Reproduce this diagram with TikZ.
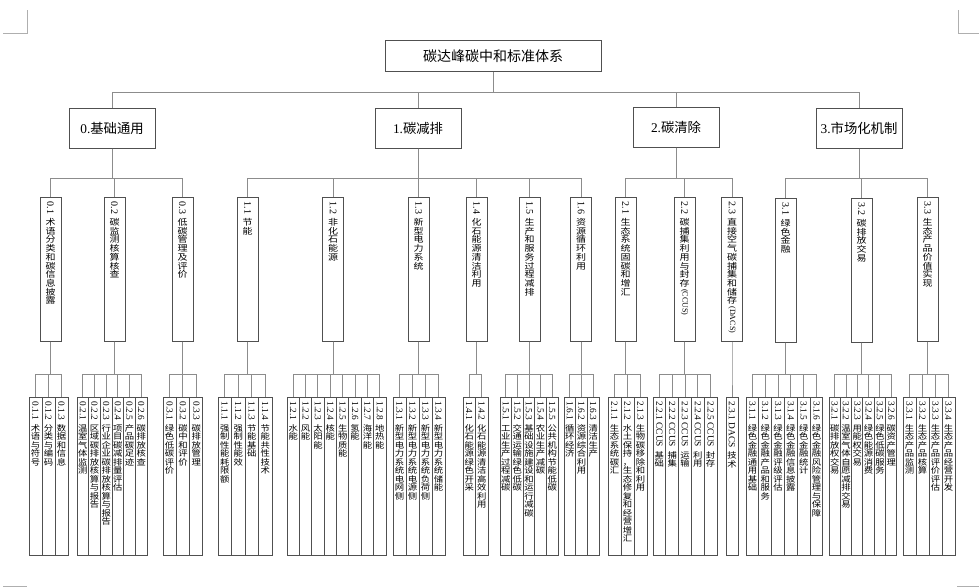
\documentclass[tikz,border=0pt]{standalone}
\usepackage{fontspec}
\setmainfont{Liberation Serif}
\newfontfamily\cjk{Noto Sans CJK SC}
\usepackage{graphicx}
\usetikzlibrary{positioning,calc}
\definecolor{boxline}{RGB}{80,80,80}
\definecolor{linkgray}{RGB}{140,140,140}
\definecolor{markgray}{RGB}{175,175,175}
\makeatletter
\newlength\vlabh
\def\vlabp{0.9em}
\def\vlabsy{0.9}
% vertical label: rotated number, stacked characters, rotated tail
\newcommand\vlab[3]{%
  \vbox to\vlabh{\offinterlineskip
    \kern3.5pt
    \hbox to1em{\hss\rotatebox{-90}{#1}\hss}%
    \kern2pt
    \expandafter\@tfor\expandafter\vlabc\expandafter:\expandafter=#2\do{%
      \hbox to1em{\hss\raisebox{0pt}[\vlabp][0pt]{\scalebox{1}[\vlabsy]{\cjk\vlabc}}\hss}}%
    \ifx\relax#3\relax\else
      \kern2pt\hbox to1em{\hss\rotatebox{-90}{\scalebox{0.8}{#3}}\hss}%
    \fi
    \vfill}}
\makeatother
\tikzset{
  rootbox/.style={draw=boxline,line width=0.75pt,inner sep=0pt,
                  minimum width=162pt,minimum height=23.25pt,
                  font=\cjk\fontsize{10.5pt}{12pt}\selectfont},
  groupbox/.style={draw=boxline,line width=0.75pt,inner sep=0pt,
                   minimum width=64.5pt,minimum height=30pt,
                   font=\fontsize{10pt}{12pt}\selectfont},
  midbox/.style={draw=boxline,line width=0.75pt,inner sep=0pt,
                 minimum width=15.75pt,minimum height=108pt,
                 font=\fontsize{7.5pt}{7.5pt}\selectfont,
                 execute at begin node={\setlength\vlabh{108pt}\def\vlabp{0.87em}\def\vlabsy{0.85}}},
  leafbox/.style={draw=boxline,line width=0.75pt,inner sep=0pt,
                  minimum height=118.5pt,
                  font=\fontsize{7pt}{7pt}\selectfont,
                  execute at begin node={\setlength\vlabh{118.5pt}\def\vlabp{0.91em}\def\vlabsy{0.88}}},
  link/.style={draw=linkgray,line width=0.75pt},
  cropmark/.style={draw=markgray,line width=0.75pt},
}
% leaves of one group: parent, number, left x, box width, tail of number, items
\newcommand\leaves[6]{%
  \foreach \t [count=\i] in {#6} {
    \node[leafbox,minimum width=#4*0.75pt] (#1-\i) at ({#3+#4*(\i-0.5)},476) {\vlab{#2.\i#5}{\t}{}};
    \draw[link] (#1.south) -- (#1.south |- lbus) -| (#1-\i.north);
  }}
\begin{document}
\begin{tikzpicture}[x=0.75pt,y=-0.75pt]
  \useasboundingbox (0,0) rectangle (979,587);
  % page corner marks
  \draw[cropmark] (3,33) -- (27,33) -- (27,10);
  \draw[cropmark] (979,33) -- (958,33) -- (958,10);
  \draw[cropmark] (3,586) -- (27,586);
  \draw[cropmark] (957,586) -- (979,586);
  \coordinate (bus1) at (0,92);
  \coordinate (bus2) at (0,178);
  \coordinate (lbus) at (0,374);
  % root and groups
  \node[rootbox] (root) at (493,56) {碳达峰碳中和标准体系};
  \node[groupbox] (g0) at (112,128) {0.\cjk 基础通用};
  \node[groupbox] (g1) at (418,128) {1.\cjk 碳减排};
  \node[groupbox] (g2) at (676,127) {2.\cjk 碳清除};
  \node[groupbox] (g3) at (859,128) {3.\cjk 市场化机制};
  \foreach \g in {g0,g1,g2,g3}
    \draw[link] (root.south) -- (root.south |- bus1) -| (\g.north);
  % second level
  \node[midbox] (s01) at (50.5,269) {\vlab{0.1}{术语分类和碳信息披露}{}};
  \node[midbox] (s02) at (114.5,269) {\vlab{0.2}{碳监测核算核查}{}};
  \node[midbox] (s03) at (182.5,269) {\vlab{0.3}{低碳管理及评价}{}};
  \node[midbox] (s11) at (247.5,269) {\vlab{1.1}{节能}{}};
  \node[midbox] (s12) at (333,269) {\vlab{1.2}{非化石能源}{}};
  \node[midbox] (s13) at (418.5,269) {\vlab{1.3}{新型电力系统}{}};
  \node[midbox] (s14) at (476.5,269) {\vlab{1.4}{化石能源清洁利用}{}};
  \node[midbox] (s15) at (529.5,269) {\vlab{1.5}{生产和服务过程减排}{}};
  \node[midbox] (s16) at (581,269) {\vlab{1.6}{资源循环利用}{}};
  \node[midbox] (s21) at (625.5,269) {\vlab{2.1}{生态系统固碳和增汇}{}};
  \node[midbox] (s22) at (684.5,269) {\vlab{2.2}{碳捕集利用与封存}{(CCUS)}};
  \node[midbox] (s23) at (732,269) {\vlab{2.3}{直接空气碳捕集和储存}{(DACS)}};
  \node[midbox] (s31) at (785.5,270) {\vlab{3.1}{绿色金融}{}};
  \node[midbox] (s32) at (861.5,270) {\vlab{3.2}{碳排放交易}{}};
  \node[midbox] (s33) at (927.5,269) {\vlab{3.3}{生态产品价值实现}{}};
  \foreach \p/\c in {g0/s01,g0/s02,g0/s03,g1/s11,g1/s12,g1/s13,g1/s14,g1/s15,g1/s16,
                     g2/s21,g2/s22,g2/s23,g3/s31,g3/s32,g3/s33}
    \draw[link] (\p.south) -- (\p.south |- bus2) -| (\c.north);
  % third level
  \leaves{s01}{0.1}{29}{13}{}{术语与符号,分类与编码,数据和信息}
  \leaves{s02}{0.2}{77}{11.67}{}{温室气体监测,区域碳排放核算与报告,行业企业碳排放核算与报告,项目碳减排量评估,产品碳足迹,碳排放核查}
  \leaves{s03}{0.3}{163}{13.33}{}{绿色低碳评价,碳中和评价,碳排放管理}
  \leaves{s11}{1.1}{218}{13.5}{}{强制性能耗限额,强制性能效,节能基础,节能共性技术}
  \leaves{s12}{1.2}{287}{12.375}{}{水能,风能,太阳能,核能,生物质能,氢能,海洋能,地热能}
  \leaves{s13}{1.3}{393}{13}{}{新型电力系统电网侧,新型电力系统电源侧,新型电力系统负荷侧,新型电力系统储能}
  \leaves{s14}{1.4}{463}{12.5}{}{化石能源绿色开采,化石能源清洁高效利用}
  \leaves{s15}{1.5}{500}{11.6}{}{工业生产过程减碳,交通运输绿色低碳,基础设施建设和运行减碳,农业生产减碳,公共机构节能低碳}
  \leaves{s16}{1.6}{564}{11.67}{}{循环经济,资源综合利用,清洁生产}
  \leaves{s21}{2.1}{608}{13}{}{生态系统碳汇,水土保持，生态修复和经营增汇,生物碳移除和利用}
  \leaves{s22}{2.2}{653}{12.8}{\ CCUS}{基础,捕集,运输,利用,封存}
  \leaves{s23}{2.3}{726}{12}{\ DACS}{技术}
  \leaves{s31}{3.1}{746}{12.83}{}{绿色金融通用基础,绿色金融产品和服务,绿色金融评级评估,绿色金融信息披露,绿色金融统计,绿色金融风险管理与保障}
  \leaves{s32}{3.2}{829}{11.33}{}{碳排放权交易,温室气体自愿减排交易,用能权交易,绿色能源消费,绿色低碳服务,碳资产管理}
  \leaves{s33}{3.3}{903}{13}{}{生态产品监测,生态产品核算,生态产品评价评估,生态产品经营开发}
\end{tikzpicture}
\end{document}
